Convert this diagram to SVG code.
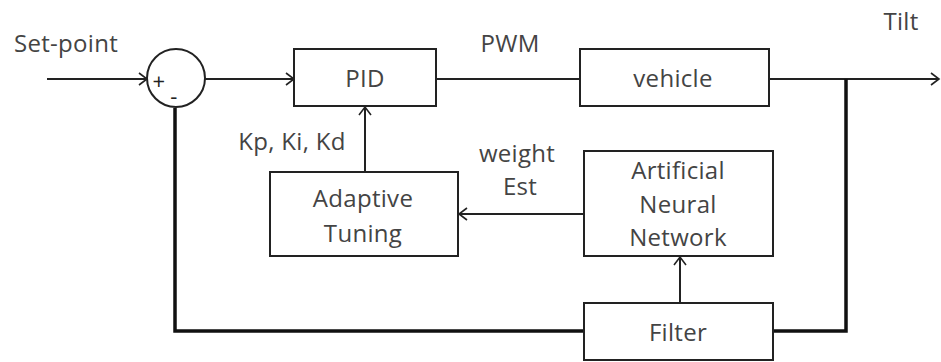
<svg xmlns="http://www.w3.org/2000/svg" width="941" height="362" viewBox="0 0 941 362">
<defs>
<style>
.box{fill:#fff;stroke:#222;stroke-width:2}
.ln{fill:none;stroke:#222;stroke-width:2}
.thick{fill:none;stroke:#111;stroke-width:3.5}
.ah{fill:none;stroke:#222;stroke-width:1.6}
text{font-family:"Open Sans","Noto Sans",sans-serif;font-size:24px;fill:#444;letter-spacing:0.3px}
.c{text-anchor:middle}
.s{font-size:22px;fill:#222}
</style>
</defs>
<rect width="941" height="362" fill="#fff"/>
<g id="connectors">
<line class="ln" x1="47" y1="79" x2="147" y2="79"/>
<path class="ah" d="M139,73 L147,79 L139,85"/>
<line class="ln" x1="205" y1="79" x2="294" y2="79"/>
<path class="ah" d="M286,73 L294,79 L286,85"/>
<line class="ln" x1="436" y1="79" x2="582" y2="79"/>
<path class="ah" d="M590,73 L582,79 L590,85"/>
<line class="ln" x1="769" y1="79" x2="939" y2="79"/>
<path class="ah" d="M931,73 L939,79 L931,85"/>
<path class="thick" d="M846,79 V331 H773"/>
<path class="thick" d="M584,331 H175 V108"/>
<line class="ln" x1="680" y1="303" x2="680" y2="257"/>
<path class="ah" d="M674,265 L680,257 L686,265"/>
<line class="ln" x1="584" y1="214" x2="459" y2="214"/>
<path class="ah" d="M467,208 L459,214 L467,220"/>
<line class="ln" x1="365" y1="172" x2="365" y2="107"/>
<path class="ah" d="M359,115 L365,107 L371,115"/>
</g>
<g id="sum">
<circle cx="176" cy="78" r="29" fill="#fff" stroke="#222" stroke-width="2"/>
<text x="159" y="89" class="c s">+</text>
<text x="174" y="104" class="c s">-</text>
</g>
<g id="pid">
<rect class="box" x="294" y="49" width="142" height="57"/>
<text x="365" y="87" class="c">PID</text>
</g>
<g id="vehicle">
<rect class="box" x="580" y="49" width="189" height="57"/>
<text x="673" y="87" class="c">vehicle</text>
</g>
<g id="adaptive">
<rect class="box" x="270" y="172" width="188" height="84"/>
<text x="363" y="207" class="c">Adaptive</text>
<text x="363" y="242" class="c">Tuning</text>
</g>
<g id="ann">
<rect class="box" x="584" y="151" width="189" height="105"/>
<text x="678" y="179" class="c">Artificial</text>
<text x="678" y="213" class="c">Neural</text>
<text x="678" y="246" class="c">Network</text>
</g>
<g id="filter">
<rect class="box" x="584" y="303" width="189" height="57"/>
<text x="678" y="341" class="c">Filter</text>
</g>
<g id="labels">
<text x="14" y="52">Set-point</text>
<text x="510" y="52" class="c">PWM</text>
<text x="901" y="30" class="c">Tilt</text>
<text x="292" y="150" class="c">Kp, Ki, Kd</text>
<text x="517" y="162" class="c">weight</text>
<text x="520" y="195" class="c">Est</text>
</g>
</svg>
